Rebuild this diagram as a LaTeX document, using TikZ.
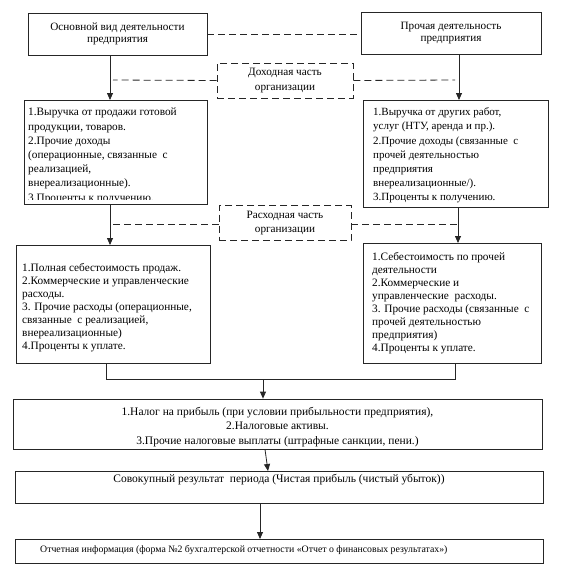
\documentclass[tikz,border=0pt]{standalone}
\usepackage{fontspec}
\setmainfont{Liberation Serif}
\usetikzlibrary{arrows.meta}
\begin{document}
\begin{tikzpicture}[x=1pt,y=-1pt,
  box/.style={draw=black!85, line width=0.8pt, rectangle, inner sep=0pt},
  dbox/.style={box, dash pattern=on 7pt off 4pt},
  conn/.style={draw=black!85, line width=0.8pt},
  arr/.style={conn, -{Triangle[length=7pt,width=6pt]}},
  dconn/.style={conn, dash pattern=on 7pt off 4pt},
  txt/.style={font=\fontsize{11.3}{14.2}\selectfont, inner sep=0pt},
  txtb/.style={font=\fontsize{11.3}{13}\selectfont, inner sep=0pt, align=left},
]
\useasboundingbox (0,0) rectangle (565,571);
\fill[white] (0,0) rectangle (565,571);

% top boxes
\node[box, minimum width=179pt, minimum height=42pt, align=center,
      font=\fontsize{11.2}{12.5}\selectfont] (A) at (117.5,34)
      {Основной вид деятельности\\предприятия};
\node[box, minimum width=180pt, minimum height=42pt, align=center,
      font=\fontsize{11.2}{12.5}\selectfont] (B) at (451,33)
      {Прочая деятельность\\предприятия};
\node[dbox, minimum width=136pt, minimum height=35pt, align=center,
      font=\fontsize{11.2}{14.5}\selectfont] (D) at (285,80.5)
      {Доходная часть\\организации};

% income boxes
\begin{scope}
\clip (24,100) rectangle (207,199.3);
\node[txt, align=left, anchor=north west] (L1t) at (28,108)
 {1.Выручка от продажи готовой\\
  продукции, товаров.\\
  2.Прочие доходы\\
  (операционные, связанные\ \ с\\
  реализацией,\\
  внереализационные).\\
  3.Проценты к получению.};
\end{scope}
\node[box, minimum width=183pt, minimum height=104pt] (L1) at (115.5,152) {};

\node[box, minimum width=185pt, minimum height=107pt] (R1) at (455.5,153.5) {};
\node[inner sep=0pt, font=\fontsize{11}{14.2}\selectfont, align=left, anchor=west] (R1t) at (373,155.5)
 {1.Выручка от других работ,\\
  услуг (НТУ, аренда и пр.).\\
  2.Прочие доходы (связанные\ \ с\\
  прочей деятельностью\\
  предприятия\\
  внереализационные/).\\
  3.Проценты к получению.};

\node[dbox, minimum width=132pt, minimum height=35pt, align=center,
      font=\fontsize{11.2}{14}\selectfont] (Rs) at (285,223)
      {Расходная часть\\организации};

% expense boxes
\node[box, minimum width=194pt, minimum height=118pt] (L2) at (113,304) {};
\node[txtb, anchor=west] (L2t) at (22,308)
 {1.Полная себестоимость продаж.\\
  2.Коммерческие и управленческие\\
  расходы.\\
  3. Прочие расходы (операционные,\\
  связанные\ \ с реализацией,\\
  внереализационные)\\
  4.Проценты к уплате.};

\node[box, minimum width=178pt, minimum height=120pt] (R2) at (452,303) {};
\node[txtb, anchor=west] (R2t) at (372,303.5)
 {1.Себестоимость по прочей\\
  деятельности\\
  2.Коммерческие и\\
  управленческие\ \ расходы.\\
  3. Прочие расходы (связанные\ \ с\\
  прочей деятельностью\\
  предприятия)\\
  4.Проценты к уплате.};

% tax box
\node[box, minimum width=529pt, minimum height=50pt] (T) at (277.5,424) {};
\node[inner sep=0pt, align=center, font=\fontsize{11.5}{14.8}\selectfont] (Tt) at (277.5,427)
 {1.Налог на прибыль (при условии прибыльности предприятия),\\
  2.Налоговые активы.\\
  3.Прочие налоговые выплаты (штрафные санкции, пени.)};

% result box
\node[box, minimum width=528pt, minimum height=32pt] (S) at (279,487) {};
\node[inner sep=0pt, font=\fontsize{11.5}{14}\selectfont] (St) at (279,480)
 {Совокупный результат\ \ периода (Чистая прибыль (чистый убыток))};

% report box
\node[box, minimum width=528pt, minimum height=24pt] (Rep) at (279,551) {};
\node[inner sep=0pt, font=\fontsize{9.8}{12}\selectfont, anchor=west] (Rept) at (40,550)
 {Отчетная информация (форма №2 бухгалтерской отчетности «Отчет о финансовых результатах»)};

% coordinates
\coordinate (dl1) at (113,80);
\coordinate (dr1) at (455,80);
\coordinate (dl2) at (113,224);
\coordinate (dr2) at (458,224);
\coordinate (m1) at (106,379);
\coordinate (m2) at (455,379);
\coordinate (mc) at (263,379);

% dashed connectors
\draw[dconn] (A.east) -- (B.west |- A.east);
\draw[dconn] (D.west) -- (dl1);
\draw[dconn] (D.east) -- (dr1);
\draw[dconn] (Rs.west |- dl2) -- (dl2);
\draw[dconn] (Rs.east |- dr2) -- (dr2);

% arrows
\draw[arr] (A.south -| 110,0) -- (110,100);
\draw[arr] (B.south -| 459,0) -- (459,100);
\draw[arr] (L1.south -| 110,0) -- (110,245);
\draw[arr] (R1.south -| 458,0) -- (458,243);

% merge
\draw[conn] (L2.south -| m1) -- (m1) -- (m2) -- (R2.south -| m2);
\draw[arr] (mc) -- (mc |- T.north);
\draw[arr] (T.south -| 265,0) -- (268,471);
\draw[arr] (S.south -| 260,0) -- (260,539);
\end{tikzpicture}
\end{document}
